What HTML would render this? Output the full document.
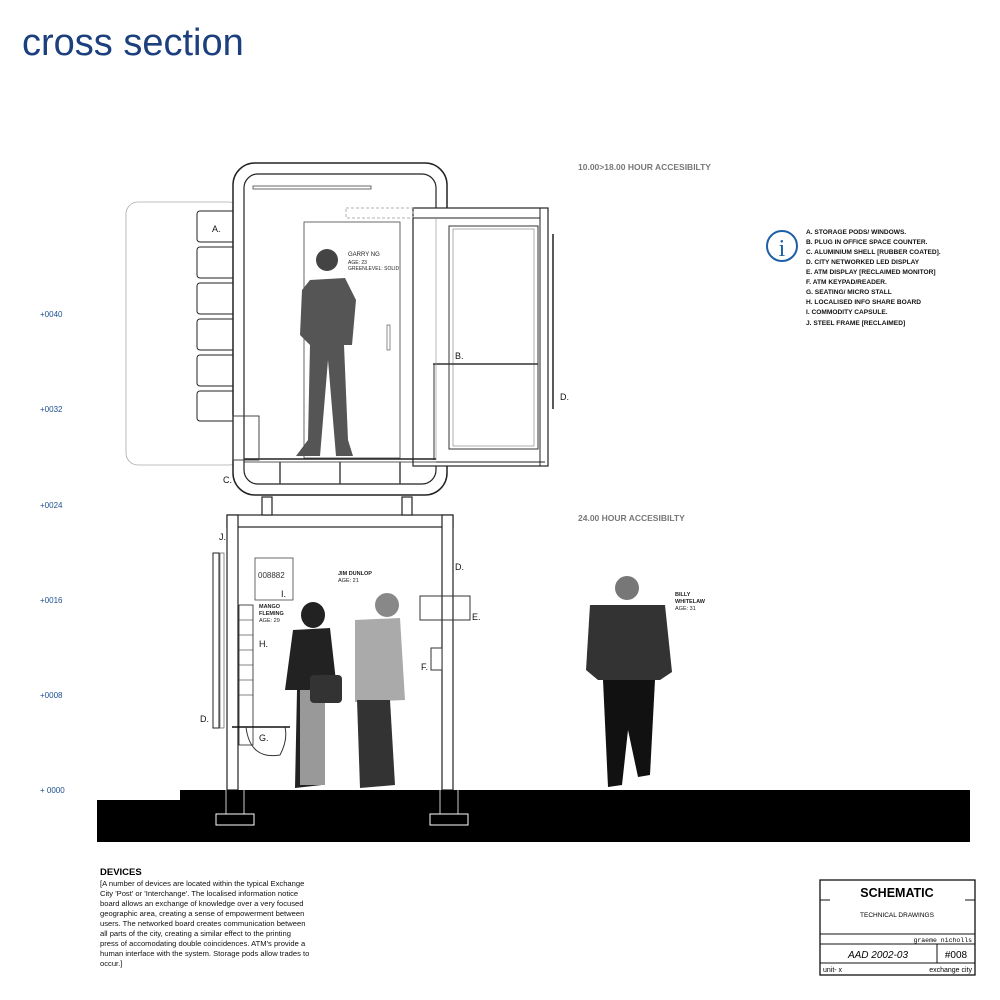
<!DOCTYPE html>
<html><head><meta charset="utf-8"><style>
body{margin:0;background:#fff;width:1000px;height:1000px;overflow:hidden;font-family:"Liberation Sans",sans-serif}
svg{position:absolute;left:0;top:0}
</style></head><body>
<svg width="1000" height="1000" viewBox="0 0 1000 1000" xmlns="http://www.w3.org/2000/svg" font-family="Liberation Sans, sans-serif">
<text x="22" y="55" font-size="38" fill="#1c3f7e">cross section</text>
<!-- scale -->
<g fill="#1c4f8e" font-size="8">
<text x="40" y="317">+0040</text><text x="40" y="412">+0032</text><text x="40" y="508">+0024</text>
<text x="40" y="603">+0016</text><text x="40" y="698">+0008</text><text x="40" y="793">+ 0000</text>
</g>
<g fill="#777" font-size="8.5" font-weight="bold">
<text x="578" y="170">10.00&gt;18.00 HOUR ACCESIBILTY</text>
<text x="578" y="521">24.00 HOUR ACCESIBILTY</text>
</g>
<!-- info -->
<circle cx="782" cy="246" r="15" fill="none" stroke="#1c5fa8" stroke-width="2"/>
<text x="782" y="256" font-size="24" fill="#1c5fa8" text-anchor="middle" font-family="Liberation Serif, serif">i</text>
<g font-size="6.6" font-weight="bold" fill="#111">
<text x="806" y="234">A. STORAGE PODS/ WINDOWS.</text>
<text x="806" y="244">B. PLUG IN OFFICE SPACE COUNTER.</text>
<text x="806" y="254">C. ALUMINIUM SHELL [RUBBER COATED].</text>
<text x="806" y="264">D. CITY NETWORKED LED DISPLAY</text>
<text x="806" y="274">E. ATM DISPLAY [RECLAIMED MONITOR]</text>
<text x="806" y="284">F. ATM KEYPAD/READER.</text>
<text x="806" y="294">G. SEATING/ MICRO STALL</text>
<text x="806" y="304">H. LOCALISED INFO SHARE BOARD</text>
<text x="806" y="314">I. COMMODITY CAPSULE.</text>
<text x="806" y="325">J. STEEL FRAME [RECLAIMED]</text>
</g>
<!-- pod -->
<rect x="126" y="202" width="115" height="263" rx="12" fill="none" stroke="#aaa" stroke-width="0.8"/>
<g fill="#fff" stroke="#222" stroke-width="1">
<rect x="197" y="211" width="40" height="31" rx="3"/><rect x="197" y="247" width="40" height="31" rx="3"/>
<rect x="197" y="283" width="40" height="31" rx="3"/><rect x="197" y="319" width="40" height="31" rx="3"/>
<rect x="197" y="355" width="40" height="31" rx="3"/><rect x="197" y="391" width="40" height="30" rx="3"/>
</g>
<rect x="233" y="163" width="214" height="332" rx="22" fill="#fff" stroke="#222" stroke-width="1.5"/>
<rect x="244" y="174" width="192" height="310" rx="14" fill="none" stroke="#222" stroke-width="1.2"/>
<rect x="253" y="186" width="118" height="3" fill="none" stroke="#444" stroke-width="0.8"/>
<rect x="413" y="208" width="135" height="258" fill="#fff" stroke="#222" stroke-width="1.2"/>
<rect x="346" y="208" width="67" height="10" fill="none" stroke="#999" stroke-dasharray="3,2" stroke-width="0.8"/>
<line x1="413" y1="218" x2="540" y2="218" stroke="#222"/>
<line x1="540" y1="208" x2="540" y2="466" stroke="#222"/>
<rect x="449" y="226" width="89" height="223" fill="none" stroke="#333"/>
<rect x="453" y="229" width="81" height="217" fill="none" stroke="#777" stroke-width="0.6"/>
<line x1="433" y1="364" x2="538" y2="364" stroke="#333" stroke-width="1.5"/>
<line x1="434" y1="364" x2="434" y2="460" stroke="#333"/>
<line x1="436" y1="218" x2="436" y2="460" stroke="#888" stroke-width="0.6"/>
<rect x="304" y="222" width="96" height="236" fill="none" stroke="#444" stroke-width="0.8"/>
<rect x="387" y="325" width="3" height="25" fill="none" stroke="#444" stroke-width="0.6"/>
<line x1="244" y1="459" x2="436" y2="459" stroke="#222" stroke-width="1.5"/>
<line x1="244" y1="462" x2="436" y2="462" stroke="#222" stroke-width="0.8"/>
<line x1="436" y1="462" x2="545" y2="462" stroke="#222"/>
<rect x="233" y="416" width="26" height="44" fill="none" stroke="#444"/>
<line x1="553" y1="234" x2="553" y2="409" stroke="#222" stroke-width="1.5"/>
<g stroke="#444" stroke-width="1.5"><line x1="280" y1="462" x2="280" y2="484"/><line x1="340" y1="462" x2="340" y2="484"/><line x1="400" y1="462" x2="400" y2="484"/></g>
<!-- Garry -->
<g fill="#555">
<circle cx="327" cy="260" r="11" fill="#444"/>
<path d="M310 280 L345 278 L356 300 L352 345 L344 345 L348 440 L353 456 L336 456 L328 360 L320 456 L296 456 L308 440 L310 345 L300 335 L302 290 Z"/>
</g>
<g font-size="5" fill="#222"><text x="348" y="256" font-size="6">GARRY NG</text><text x="348" y="264">AGE: 23</text><text x="348" y="270">GREENLEVEL: SOLID</text></g>
<!-- labels -->
<g font-size="9" fill="#111">
<text x="212" y="232">A.</text><text x="455" y="359">B.</text><text x="223" y="483">C.</text><text x="560" y="400">D.</text>
<text x="219" y="540">J.</text><text x="455" y="570">D.</text><text x="472" y="620">E.</text><text x="421" y="670">F.</text>
<text x="259" y="741">G.</text><text x="259" y="647">H.</text><text x="281" y="597">I.</text><text x="200" y="722">D.</text>
</g>
<!-- lower frame -->
<g fill="#fff" stroke="#222" stroke-width="1.2">
<rect x="227" y="515" width="226" height="12"/>
<rect x="227" y="515" width="11" height="275"/>
<rect x="442" y="515" width="11" height="275"/>
<rect x="262" y="497" width="10" height="18"/><rect x="402" y="497" width="10" height="18"/>
</g>
<rect x="213" y="553" width="6" height="175" fill="none" stroke="#222"/>
<rect x="220" y="553" width="4" height="175" fill="none" stroke="#444" stroke-width="0.6"/>
<rect x="239" y="605" width="14" height="140" fill="none" stroke="#222" stroke-width="0.8"/>
<g stroke="#333" stroke-width="0.6"><line x1="239" y1="620" x2="253" y2="620"/><line x1="239" y1="635" x2="253" y2="635"/><line x1="239" y1="650" x2="253" y2="650"/><line x1="239" y1="665" x2="253" y2="665"/><line x1="239" y1="680" x2="253" y2="680"/><line x1="239" y1="695" x2="253" y2="695"/></g>
<rect x="255" y="558" width="38" height="42" fill="none" stroke="#444" stroke-width="0.8"/>
<text x="258" y="578" font-size="8" fill="#333">008882</text>
<line x1="232" y1="727" x2="290" y2="727" stroke="#111" stroke-width="1.5"/>
<path d="M246 727 Q250 760 280 755 Q288 740 285 727" fill="none" stroke="#333"/>
<rect x="420" y="596" width="50" height="24" fill="none" stroke="#333"/>
<rect x="431" y="648" width="11" height="22" fill="#fff" stroke="#333"/>
<!-- people -->
<g fill="#222"><ellipse cx="313" cy="615" rx="12" ry="13"/><path d="M293 630 L330 628 L337 690 L325 690 L322 785 L295 788 L297 690 L285 690 Z"/></g>
<rect x="300" y="690" width="25" height="95" fill="#999"/>
<rect x="310" y="675" width="32" height="28" rx="4" fill="#333"/>
<g><circle cx="387" cy="605" r="12" fill="#888"/><path d="M355 620 L400 618 L405 700 L355 702 Z" fill="#aaa"/><path d="M357 700 L390 700 L395 785 L360 788 Z" fill="#333"/></g>
<g><circle cx="627" cy="588" r="12" fill="#777"/><path d="M590 605 L665 605 L672 672 L660 680 L598 680 L586 670 Z" fill="#333"/><path d="M603 680 L655 680 L650 775 L638 777 L628 730 L622 785 L608 787 Z" fill="#111"/></g>
<g font-size="5.5" fill="#222">
<text x="338" y="575" font-weight="bold">JIM DUNLOP</text><text x="338" y="582">AGE: 21</text>
<text x="259" y="608" font-weight="bold">MANGO</text><text x="259" y="615" font-weight="bold">FLEMING</text><text x="259" y="622">AGE: 29</text>
<text x="675" y="596" font-weight="bold">BILLY</text><text x="675" y="603" font-weight="bold">WHITELAW</text><text x="675" y="610">AGE: 31</text>
</g>
<!-- ground -->
<path d="M180 790 L970 790 L970 842 L97 842 L97 800 L180 800 Z" fill="#000"/>
<rect x="216" y="814" width="38" height="11" fill="none" stroke="#fff" stroke-width="1"/>
<rect x="430" y="814" width="38" height="11" fill="none" stroke="#fff" stroke-width="1"/>
<g stroke="#fff" stroke-width="0.8"><line x1="226" y1="790" x2="226" y2="814"/><line x1="244" y1="790" x2="244" y2="814"/><line x1="440" y1="790" x2="440" y2="814"/><line x1="458" y1="790" x2="458" y2="814"/></g>
<!-- devices text -->
<text x="100" y="875" font-size="9.5" font-weight="bold">DEVICES</text>
<g font-size="7.6" fill="#111">
<text x="100" y="886">[A number of devices are located within the typical Exchange</text>
<text x="100" y="896">City 'Post' or 'Interchange'. The localised information notice</text>
<text x="100" y="906">board allows an exchange of knowledge over a very focused</text>
<text x="100" y="916">geographic area, creating a sense of empowerment between</text>
<text x="100" y="926">users. The networked board creates communication between</text>
<text x="100" y="936">all parts of the city, creating a similar effect to the printing</text>
<text x="100" y="946">press of accomodating double coincidences. ATM's provide a</text>
<text x="100" y="956">human interface with the system. Storage pods allow trades to</text>
<text x="100" y="966">occur.]</text>
</g>
<!-- title block -->
<g stroke="#111" fill="none">
<rect x="820" y="880" width="155" height="95" stroke-width="1.3"/>
<line x1="820" y1="934" x2="975" y2="934"/><line x1="820" y1="944" x2="975" y2="944"/>
<line x1="820" y1="963" x2="975" y2="963"/><line x1="937" y1="944" x2="937" y2="963"/>
<line x1="820" y1="900" x2="830" y2="900"/><line x1="965" y1="900" x2="975" y2="900"/>
</g>
<text x="897" y="897" font-size="12.5" font-weight="bold" text-anchor="middle">SCHEMATIC</text>
<text x="897" y="917" font-size="6.5" text-anchor="middle">TECHNICAL DRAWINGS</text>
<text x="972" y="942" font-size="6.5" text-anchor="end" font-family="Liberation Mono, monospace">graeme nicholls</text>
<text x="878" y="958" font-size="10" font-style="italic" text-anchor="middle">AAD 2002-03</text>
<text x="956" y="958" font-size="10" text-anchor="middle">#008</text>
<text x="823" y="972" font-size="7">unit- x</text>
<text x="972" y="972" font-size="7" text-anchor="end">exchange city</text>
</svg>
</body></html>
